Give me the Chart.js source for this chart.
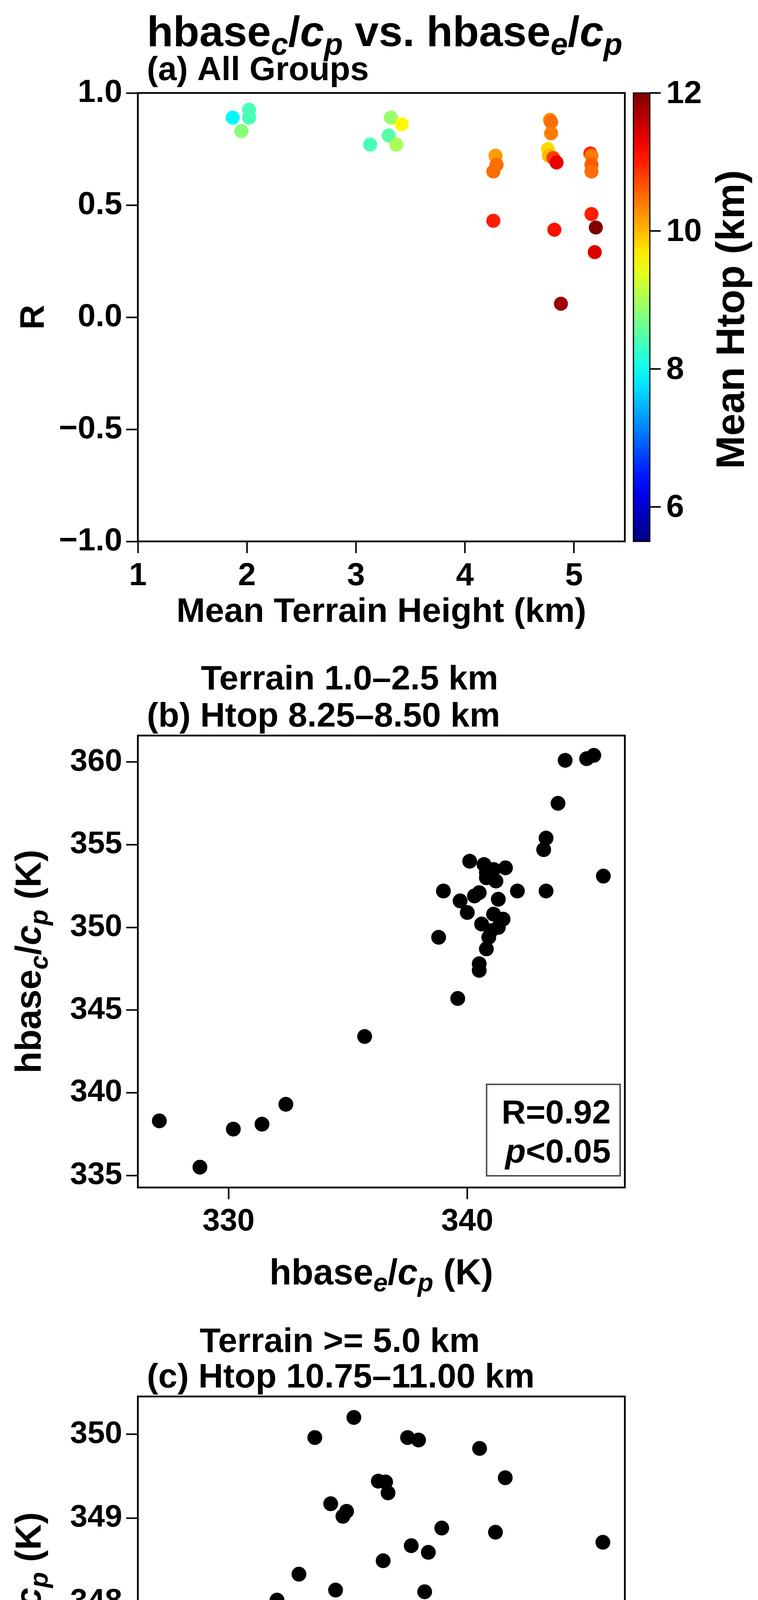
<!DOCTYPE html>
<html>
<head>
<meta charset="utf-8">
<script src="https://cdn.jsdelivr.net/npm/chart.js@4"></script>
<style>
  body { margin: 0; background: #fff; }
  canvas { position: absolute; left: 0; }
</style>
</head>
<body>
<canvas id="chartA" width="1941" height="1700" style="top:0px;width:1941px;height:1700px"></canvas>
<canvas id="chartB" width="1941" height="1700" style="top:1650px;width:1941px;height:1700px"></canvas>
<canvas id="chartC" width="1941" height="1679" style="top:3340px;width:1941px;height:1679px"></canvas>
<script>
// (a) all groups: mean terrain height (km), R, mean Htop (km)
const terrainA = [1.87, 2.02, 2.02, 1.95, 3.13, 3.32, 3.30, 3.37, 3.42, 4.28, 4.29, 4.26, 4.26,
  4.78, 4.79, 4.79, 4.76, 4.77, 4.81, 4.84, 4.82, 4.88, 5.15, 5.16, 5.16, 5.16, 5.16, 5.20, 5.19];
const corrA = [0.89, 0.925, 0.89, 0.83, 0.77, 0.89, 0.81, 0.77, 0.86, 0.72, 0.68, 0.65, 0.43,
  0.88, 0.87, 0.82, 0.75, 0.72, 0.71, 0.69, 0.39, 0.06, 0.73, 0.72, 0.68, 0.65, 0.46, 0.40, 0.29];
const htopA = [7.9, 8.4, 8.4, 8.8, 8.4, 8.9, 8.5, 9.0, 9.6, 10.2, 10.5, 10.5, 11.0,
  10.3, 10.5, 10.4, 9.8, 10.0, 10.8, 11.3, 11.1, 11.8, 11.0, 10.4, 10.6, 10.5, 11.0, 12.0, 11.4];

// (b) terrain 1.0-2.5 km, Htop 8.25-8.50 km
const hbaseEB = [327.1, 328.8, 330.2, 331.4, 332.4, 335.7, 338.8, 339.0, 339.6, 339.7, 340.0, 340.1,
  340.3, 340.5, 340.6, 340.5, 340.5, 340.7, 340.8, 340.8, 340.8, 340.9, 341.0, 341.1, 341.1, 341.2,
  341.3, 341.3, 341.5, 341.6, 342.1, 343.3, 343.2, 343.3, 343.8, 344.1, 345.0, 345.3, 345.7];
const hbaseCB = [338.3, 335.5, 337.8, 338.1, 339.3, 343.4, 349.4, 352.2, 345.7, 351.6, 350.9, 354.0,
  351.9, 352.1, 350.2, 347.8, 347.4, 353.8, 353.3, 353.0, 348.7, 349.4, 349.8, 350.8, 353.5, 352.8,
  350.0, 351.7, 350.5, 353.6, 352.2, 355.4, 354.7, 352.2, 357.5, 360.1, 360.2, 360.4, 353.1];

// (c) terrain >= 5.0 km, Htop 10.75-11.00 km
const hbaseEC = [338.87, 339.24, 339.52, 339.65, 339.71, 339.77, 339.83, 339.89, 340.01, 340.13,
  340.14, 340.19, 340.27, 340.27, 340.31, 340.36, 340.37, 340.40, 340.46, 340.46, 340.49, 340.51,
  340.55, 340.57, 340.62, 340.63, 340.66, 340.72, 340.70, 340.74, 340.82, 340.89, 340.90, 340.93,
  340.99, 341.04, 341.07, 341.09, 341.18, 341.45, 341.49, 341.62, 341.70, 341.70, 342.50];
const hbaseCC = [346.65, 345.89, 346.70, 345.29, 347.34, 345.64, 348.02, 345.51, 348.33, 345.92,
  349.96, 345.52, 349.17, 345.27, 348.14, 345.60, 349.02, 349.08, 350.20, 347.84, 347.09, 345.94,
  347.19, 346.16, 346.57, 346.33, 349.44, 349.43, 348.49, 349.30, 346.98, 347.53, 349.96, 348.67,
  349.93, 348.12, 348.59, 347.49, 348.88, 347.66, 349.83, 348.83, 349.48, 347.07, 348.71];

const ticksAx = [1, 2, 3, 4, 5];
const ticksAy = [-1, -0.5, 0, 0.5, 1];
const ticksBx = [330, 340];
const ticksBy = [335, 340, 345, 350, 355, 360];
const ticksCx = [339, 340, 341, 342];
const ticksCy = [346, 347, 348, 349, 350];
const cbarTicks = [6, 8, 10, 12];
const cbarMin = 5.5, cbarMax = 12;

const FONT = '"Liberation Sans", Arial, sans-serif';

function jet(v) {
  const t = Math.min(1, Math.max(0, (v - cbarMin) / (cbarMax - cbarMin)));
  const c = x => Math.round(255 * Math.min(1, Math.max(0, 1.5 - Math.abs(x))));
  return 'rgb(' + c(4 * t - 3) + ',' + c(4 * t - 2) + ',' + c(4 * t - 1) + ')';
}

// draw text made of pieces: {t, it, sub}
function richText(ctx, parts, x, y, size, align) {
  const fontOf = p => 'bold ' + (p.it ? 'italic ' : '') + Math.round(p.sub ? size * 0.72 : size) + 'px ' + FONT;
  let w = 0;
  parts.forEach(p => { ctx.font = fontOf(p); w += ctx.measureText(p.t).width; });
  let cx = align === 'center' ? x - w / 2 : x;
  ctx.textAlign = 'left';
  ctx.textBaseline = 'alphabetic';
  parts.forEach(p => {
    ctx.font = fontOf(p);
    ctx.fillText(p.t, cx, y + (p.sub ? size * 0.2 : 0));
    cx += ctx.measureText(p.t).width;
  });
}

function hbase(sub, tail) {
  return [{t: 'hbase'}, {t: sub, it: true, sub: true}, {t: '/'}, {t: 'c', it: true}, {t: 'p', it: true, sub: true}].concat(tail ? [{t: tail}] : []);
}

function scaleOpts(min, max, ticks, fmt, size, fit) {
  return {
    type: 'linear', min: min, max: max,
    afterBuildTicks: s => { s.ticks = ticks.map(v => ({value: v})); },
    afterFit: fit,
    grid: { drawOnChartArea: false, tickLength: 30, tickWidth: 4, tickColor: '#000', color: '#000' },
    border: { display: false },
    ticks: { color: '#000', padding: 10, maxRotation: 0, autoSkip: false,
      font: { family: FONT, size: size, weight: 'bold' }, callback: fmt }
  };
}

// extra drawing per canvas (kept out of chart options so it is not treated as scriptable)
const extraDraw = {};

const framePlugin = {
  id: 'frame',
  afterDraw(chart) {
    const a = chart.chartArea, ctx = chart.ctx;
    ctx.save();
    ctx.strokeStyle = '#000';
    ctx.lineWidth = 4.5;
    ctx.strokeRect(a.left, a.top, a.right - a.left, a.bottom - a.top);
    ctx.fillStyle = '#000';
    const fn = extraDraw[chart.canvas.id];
    if (fn) fn(ctx, a);
    ctx.restore();
  }
};
Chart.register(framePlugin);

function makeChart(id, xs, ys, colors, radius, cfg) {
  const canvas = document.getElementById(id);
  const H = canvas.height;
  extraDraw[id] = cfg.draw;
  return new Chart(canvas, {
    type: 'scatter',
    data: { datasets: [{
      data: xs.map((x, i) => ({x: x, y: ys[i]})),
      backgroundColor: colors, borderWidth: 0, pointRadius: radius, pointHoverRadius: radius
    }] },
    options: {
      responsive: false, animation: false, devicePixelRatio: 1,
      layout: { padding: { top: cfg.top, left: 0, right: 1941 - cfg.right, bottom: 0 } },
      plugins: { legend: { display: false }, tooltip: { enabled: false } },
      scales: {
        x: scaleOpts(cfg.xmin, cfg.xmax, cfg.xticks, cfg.xfmt, cfg.tickSize, s => { s.height = H - cfg.bottom; }),
        y: scaleOpts(cfg.ymin, cfg.ymax, cfg.yticks, cfg.yfmt, cfg.tickSize, s => { s.width = cfg.left; })
      }
    }
  });
}

function rBox(ctx, x0, y0, x1, y1, r) {
  ctx.fillStyle = '#fff';
  ctx.fillRect(x0, y0, x1 - x0, y1 - y0);
  ctx.strokeStyle = '#555';
  ctx.lineWidth = 4;
  ctx.strokeRect(x0, y0, x1 - x0, y1 - y0);
  ctx.fillStyle = '#000';
  ctx.font = 'bold 86px ' + FONT;
  ctx.textAlign = 'right';
  ctx.fillText('R=' + r, x1 - 24, y0 + 100);
  ctx.fillText('<0.05', x1 - 24, y0 + 200);
  const w = ctx.measureText('<0.05').width;
  ctx.font = 'bold italic 86px ' + FONT;
  ctx.fillText('p', x1 - 24 - w, y0 + 200);
}

function yLabel(ctx, parts, x, y, size) {
  ctx.save();
  ctx.translate(x, y);
  ctx.rotate(-Math.PI / 2);
  richText(ctx, parts, 0, 0, size, 'center');
  ctx.restore();
}

const fix1 = v => (v < 0 ? '\u2212' : '') + Math.abs(v).toFixed(1);
const int0 = v => String(v);

makeChart('chartA', terrainA, corrA, htopA.map(jet), 18, {
  top: 238, bottom: 1386, left: 353, right: 1600, tickSize: 82,
  xmin: 1, xmax: 5.466, ymin: -1, ymax: 1, xticks: ticksAx, yticks: ticksAy, xfmt: int0, yfmt: fix1,
  draw(ctx, a) {
    richText(ctx, hbase('c', ' vs. ').concat(hbase('e')), 985, 118, 110, 'center');
    richText(ctx, [{t: '(a) All Groups'}], 376, 205, 86, 'left');
    richText(ctx, [{t: 'Mean Terrain Height (km)'}], (a.left + a.right) / 2, 1592, 88, 'center');
    yLabel(ctx, [{t: 'R'}], 112, (a.top + a.bottom) / 2, 88);
    // colorbar
    const x0 = 1622, x1 = 1664;
    const g = ctx.createLinearGradient(0, a.bottom, 0, a.top);
    for (let i = 0; i <= 20; i++) g.addColorStop(i / 20, jet(cbarMin + (cbarMax - cbarMin) * i / 20));
    ctx.fillStyle = g;
    ctx.fillRect(x0, a.top, x1 - x0, a.bottom - a.top);
    ctx.strokeStyle = '#000';
    ctx.lineWidth = 3;
    ctx.strokeRect(x0, a.top, x1 - x0, a.bottom - a.top);
    ctx.fillStyle = '#000';
    ctx.lineWidth = 4;
    ctx.font = 'bold 82px ' + FONT;
    ctx.textAlign = 'left';
    ctx.textBaseline = 'middle';
    cbarTicks.forEach(v => {
      const y = a.bottom - (v - cbarMin) / (cbarMax - cbarMin) * (a.bottom - a.top);
      ctx.beginPath(); ctx.moveTo(x1, y); ctx.lineTo(x1 + 28, y); ctx.stroke();
      ctx.fillText(String(v), x1 + 42, y + 3);
    });
    yLabel(ctx, [{t: 'Mean Htop (km)'}], 1905, 818, 102);
  }
});

makeChart('chartB', hbaseEB, hbaseCB, '#000', 19, {
  top: 233, bottom: 1390, left: 353, right: 1600, tickSize: 80,
  xmin: 326.2, xmax: 346.6, ymin: 334.27, ymax: 361.6, xticks: ticksBx, yticks: ticksBy, xfmt: int0, yfmt: int0,
  draw(ctx, a) {
    richText(ctx, [{t: 'Terrain 1.0\u20132.5 km'}], 895, 115, 88, 'center');
    richText(ctx, [{t: '(b) Htop 8.25\u20138.50 km'}], 376, 210, 88, 'left');
    richText(ctx, hbase('e', ' (K)'), (a.left + a.right) / 2, 1638, 92, 'center');
    yLabel(ctx, hbase('c', ' (K)'), 104, (a.top + a.bottom) / 2, 92);
    rBox(ctx, 1246, 1126, 1588, 1360, '0.92');
  }
});

makeChart('chartC', hbaseEC, hbaseCC, '#000', 19, {
  top: 235, bottom: 1400, left: 353, right: 1600, tickSize: 80,
  xmin: 338.69, xmax: 342.68, ymin: 345.02, ymax: 350.45, xticks: ticksCx, yticks: ticksCy, xfmt: int0, yfmt: int0,
  draw(ctx, a) {
    richText(ctx, [{t: 'Terrain >= 5.0 km'}], 870, 121, 88, 'center');
    richText(ctx, [{t: '(c) Htop 10.75\u201311.00 km'}], 376, 212, 88, 'left');
    richText(ctx, hbase('e', ' (K)'), (a.left + a.right) / 2, 1655, 92, 'center');
    yLabel(ctx, hbase('c', ' (K)'), 104, (a.top + a.bottom) / 2, 92);
    rBox(ctx, 1246, 1132, 1588, 1368, '0.46');
  }
});
</script>
</body>
</html>
